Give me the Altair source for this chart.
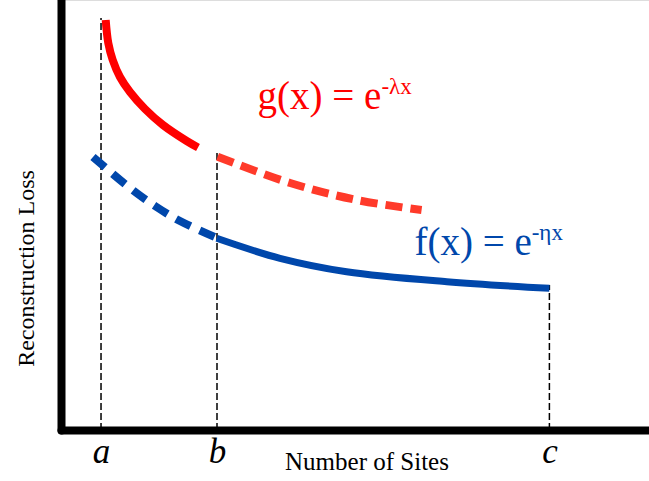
import altair as alt
import pandas as pd

# x positions of the marked site counts (arbitrary units)
x_a = 6.67
x_b = 26.0
x_c = 81.4

# g(x) solid part (a -> before b)
g_solid_x = [7.45, 7.88, 8.62, 9.83, 11.5, 14.0, 17.0, 20.95, 22.83]
g_solid_y = [95.35, 90.0, 86.05, 82.09, 78.6, 74.65, 70.93, 67.21, 65.7]

# g(x) dashed continuation (from b)
g_dash_x = [26.1, 38.2, 49.3, 60.1]
g_dash_y = [63.56, 57.44, 53.49, 51.16]

# f(x) dashed part (before b)
f_dash_x = [5.33, 11.5, 15.67, 19.83, 26.0]
f_dash_y = [63.49, 56.28, 52.09, 48.6, 44.65]

# f(x) solid part (b -> c)
f_solid_x = [25.95, 36.5, 47.6, 64.3, 81.4]
f_solid_y = [44.58, 39.93, 36.81, 34.49, 32.95]

# vertical guide lines
guide_x = [x_a, x_b, x_c]
guide_top = [95.8, 64.4, 33.7]

# labels
g_label_pos = (53.4, 74.65)
f_label_pos = (78.45, 40.7)

RED = "#FF0000"
RED_D = "#FF3A2A"
BLUE = "#0047AB"
SERIF = "Liberation Serif"

xs = alt.Scale(domain=[0, 98], nice=False, zero=False)
ys = alt.Scale(domain=[0, 100], nice=False, zero=False)

x_axis = alt.Axis(
    values=guide_x,
    labelExpr=f"datum.value == {x_a} ? 'a' : datum.value == {x_b} ? 'b' : 'c'",
    labelFont=SERIF, labelFontStyle="italic", labelFontSize=35, labelColor="black",
    labelBaseline="alphabetic", labelPadding=32, labelOverlap=False, labelFlush=False,
    ticks=False, grid=False, domain=True, domainColor="black", domainWidth=8, domainCap="round",
    title="Number of Sites", titleFont=SERIF, titleFontSize=25, titleFontWeight="normal",
    titleColor="black", titleX=305.5, titleY=39, titleBaseline="alphabetic", titleAlign="center",
)
y_axis = alt.Axis(
    labels=False, ticks=False, grid=False, domain=True, domainColor="black", domainWidth=8,
    domainCap="round",
    title="Reconstruction Loss", titleFont=SERIF, titleFontSize=24, titleFontWeight="normal",
    titleColor="black", titleX=-28, titleY=268, titleBaseline="alphabetic", titleAlign="center",
    titleAngle=270,
)


def line(xv, yv, color, dash=None, width=8):
    df = pd.DataFrame({"x": xv, "y": yv})
    kw = dict(color=color, strokeWidth=width, interpolate="catmull-rom", strokeCap="butt")
    if dash:
        kw["strokeDash"] = dash
    return alt.Chart(df).mark_line(**kw).encode(
        x=alt.X("x:Q", scale=xs, axis=x_axis),
        y=alt.Y("y:Q", scale=ys, axis=y_axis),
        order=alt.Order("x:Q"),
    )


guides = alt.Chart(pd.DataFrame({"x": guide_x, "y0": [0, 0, 0], "y1": guide_top})).mark_rule(
    color="black", strokeWidth=1.5, strokeDash=[7, 3]
).encode(x=alt.X("x:Q", scale=xs), y=alt.Y("y0:Q", scale=ys), y2="y1:Q")

g_solid = line(g_solid_x, g_solid_y, RED, width=8)
g_dash = line(g_dash_x, g_dash_y, RED_D, dash=[17, 8], width=8)
f_dash = line(f_dash_x, f_dash_y, BLUE, dash=[16, 10], width=8)
f_solid = line(f_solid_x, f_solid_y, BLUE, width=7)


def label(pos, main, sup, color):
    df = pd.DataFrame({"x": [pos[0]], "y": [pos[1]], "main": [main], "sup": [sup]})
    base = alt.Chart(df).encode(x=alt.X("x:Q", scale=xs), y=alt.Y("y:Q", scale=ys))
    m = base.mark_text(font=SERIF, fontSize=39, color=color, align="right",
                       baseline="alphabetic").encode(text="main:N")
    s = base.mark_text(font=SERIF, fontSize=23, color=color, align="left",
                       baseline="alphabetic", dy=-15).encode(text="sup:N")
    return m + s


g_lab = label(g_label_pos, "g(x) = e", "-λx", RED)
f_lab = label(f_label_pos, "f(x) = e", "-ηx", BLUE)

chart = alt.layer(guides, g_solid, g_dash, f_dash, f_solid, g_lab, f_lab).properties(
    width=588, height=430,
    autosize=alt.AutoSizeParams(type="none"),
    padding={"left": 61, "top": 0, "right": 0, "bottom": 51},
).configure_view(stroke=None).configure(background="white")

chart.save("out.html", embed_options={"renderer": "svg", "actions": False})
